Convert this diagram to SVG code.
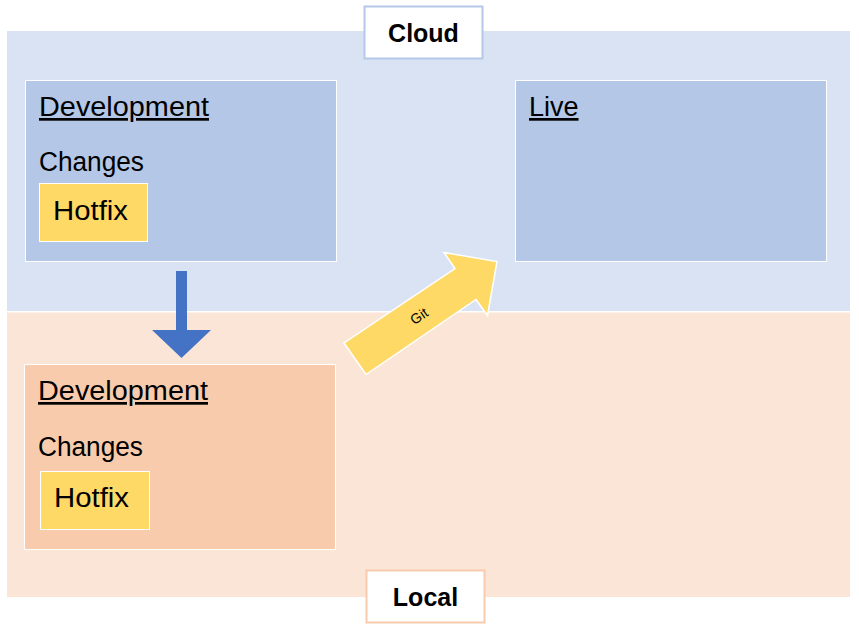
<svg xmlns="http://www.w3.org/2000/svg" width="859" height="630" viewBox="0 0 859 630">
<style>
.t{font-family:"Liberation Sans",Arial,sans-serif;fill:#000}
.h{font-size:27px}
.b{font-size:25px;font-weight:bold}
.ws{stroke:#fff;stroke-width:1}
</style>
<rect width="859" height="630" fill="#fff"/>
<g id="cloud-region">
<rect x="7" y="31" width="843" height="280" fill="#dae3f3"/>
</g>
<g id="local-region">
<rect x="7" y="312.5" width="843" height="284.5" fill="#fbe5d6"/>
</g>
<g id="cloud-label">
<rect x="364.5" y="6.5" width="118" height="52" fill="#fff" stroke="#b4c7e7" stroke-width="2"/>
<text class="t b" x="423.5" y="42" text-anchor="middle">Cloud</text>
</g>
<g id="local-label">
<rect x="366.5" y="570.5" width="118" height="52" fill="#fff" stroke="#f8cbad" stroke-width="2"/>
<text class="t b" x="425.5" y="606" text-anchor="middle">Local</text>
</g>
<g id="cloud-dev">
<rect class="ws" x="25.5" y="80.5" width="311" height="181" fill="#b4c7e7"/>
<text class="t h" x="39" y="116" text-decoration="underline" textLength="170" lengthAdjust="spacingAndGlyphs">Development</text>
<text class="t h" x="39" y="171" textLength="105" lengthAdjust="spacingAndGlyphs">Changes</text>
</g>
<g id="cloud-hotfix">
<rect class="ws" x="39.5" y="183.5" width="108" height="58" fill="#ffd966"/>
<text class="t h" x="53" y="220" textLength="75" lengthAdjust="spacingAndGlyphs">Hotfix</text>
</g>
<g id="live">
<rect class="ws" x="515.5" y="80.5" width="311" height="181" fill="#b4c7e7"/>
<text class="t h" x="529" y="116" text-decoration="underline">Live</text>
</g>
<g id="local-dev">
<rect class="ws" x="24.5" y="364.5" width="311" height="185" fill="#f8cbad"/>
<text class="t h" x="38" y="400" text-decoration="underline" textLength="170" lengthAdjust="spacingAndGlyphs">Development</text>
<text class="t h" x="38" y="456" textLength="105" lengthAdjust="spacingAndGlyphs">Changes</text>
</g>
<g id="local-hotfix">
<rect class="ws" x="40.5" y="471.5" width="109" height="58" fill="#ffd966"/>
<text class="t h" x="54" y="507" textLength="75" lengthAdjust="spacingAndGlyphs">Hotfix</text>
</g>
<g id="connectors">
<polygon points="176,271 187,271 187,330 211,330 181.5,358 152,330 176,330" fill="#4472c4"/>
<g id="git-arrow">
<polygon points="344,343 366,374.5 476,299.5 487.5,315.5 497,261.5 444,252.5 455,268.5" fill="#ffd966" stroke="#fff" stroke-width="1.5"/>
<text class="t" x="419" y="321" font-size="14" text-anchor="middle" transform="rotate(-34 419 316)">Git</text>
</g>
</g>
</svg>
